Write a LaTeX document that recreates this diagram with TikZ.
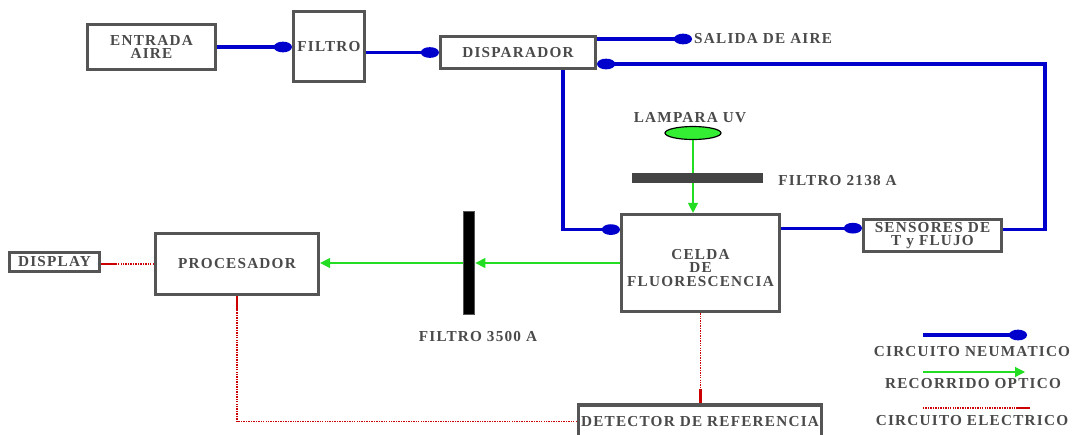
\documentclass[tikz,border=0pt]{standalone}
\usepackage{fontspec}
\setmainfont{Liberation Serif}[LetterSpace=8]
\usetikzlibrary{arrows.meta,shapes.geometric}
\definecolor{boxgray}{HTML}{555555}
\definecolor{bargray}{HTML}{444444}
\definecolor{txtgray}{HTML}{4A4A4A}
\definecolor{pneublue}{HTML}{0000CC}
\definecolor{optgreen}{HTML}{22DD22}
\definecolor{lampgreen}{HTML}{33EE33}
\definecolor{elecred}{HTML}{CC0000}
\begin{document}
\begin{tikzpicture}[x=0.03cm,y=-0.03cm,thick,font=\fontsize{13}{11.5}\selectfont\bfseries,text=txtgray]
  \tikzstyle{boxA}=[rectangle, draw=boxgray, line width=3pt, fill=white, align=center, inner sep=0pt]
  \tikzstyle{lbl}=[align=center, inner sep=0pt]
  \tikzstyle{pneu}=[pneublue, line width=2.6pt, -{Ellipse[length=0.54cm,width=0.32cm]}]
  \tikzstyle{optic}=[optgreen, line width=1pt, -{Triangle[length=0.3cm,width=0.3cm]}]
  \tikzstyle{elec}=[elecred, dash pattern=on 1.2pt off 0.9pt, line width=1pt, -{Rectangle[length=0.42cm,width=0.08cm]}]
  \useasboundingbox (0,0) rectangle (1077,434);
  \clip (0,0) rectangle (1077,434);
  \node[boxA, minimum width=3.83cm, minimum height=1.34cm] (entrada) at (151.5,47) {ENTRADA\\AIRE};
  \node[boxA, minimum width=2.12cm, minimum height=2.09cm] (filtro) at (329,46.5) {FILTRO};
  \node[boxA, minimum width=4.64cm, minimum height=0.95cm] (disparador) at (518,52.5) {DISPARADOR};
  \node[boxA, minimum width=4.73cm, minimum height=2.9cm] (celda) at (700.5,263) {};
  \node[lbl] (celdatxt) at (700.5,268) {CELDA\\DE\\FLUORESCENCIA};
  \node[boxA, minimum width=4.13cm, minimum height=0.95cm] (sensores) at (932.5,235.5) {SENSORES DE\\T y FLUJO};
  \node[boxA, minimum width=4.88cm, minimum height=1.82cm] (procesador) at (237,264) {PROCESADOR};
  \node[boxA, minimum width=2.69cm, minimum height=0.56cm] (display) at (54.5,262) {DISPLAY};
  \node[boxA, minimum width=7.28cm, minimum height=1.02cm] (detector) at (700,421.75) {DETECTOR DE REFERENCIA};
  \node[lbl, anchor=west, inner sep=1.5pt] (salida) at (692,39) {SALIDA DE AIRE};
  \node[ellipse, draw=black, fill=lampgreen, line width=1pt, minimum width=1.68cm, minimum height=0.39cm, inner sep=0pt] (lamp) at (693,133) {};
  \node[lbl] (lamptxt) at (690,118) {LAMPARA UV};
  \draw[pneu] (entrada.east) -- (entrada.east -| filtro.west);
  \draw[pneu] (filtro.east |- disparador.west) -- (disparador.west);
  \draw[pneu] (salida.west -| disparador.east) -- (salida.west);
  \coordinate (ret) at (1045,64);
  \draw[pneu] ([yshift=0.17cm]sensores.east) -| (ret) -- (ret -| disparador.east);
  \draw[pneu] ([xshift=1.35cm]disparador.south) |- ([yshift=-0.5cm]celda.north west);
  \coordinate (sin) at ([yshift=0.22cm]sensores.west);
  \draw[pneu] (sin -| celda.east) -- (sin);
  \draw[optic] (lamp.south) -- (lamp.south |- celda.north);
  \node[rectangle, fill=bargray, minimum width=3.93cm, minimum height=0.3cm, inner sep=0pt] (f2138) at (697.5,178) {};
  \node[lbl, anchor=west] (f2138txt) at (778,181) {FILTRO 2138 A};
  \node[rectangle, draw=boxgray, fill=black, line width=1.5pt, minimum width=0.33cm, minimum height=3.09cm, inner sep=0pt] (f3500) at (469,263) {};
  \node[lbl] (f3500txt) at (478,336) {FILTRO 3500 A};
  \draw[optic] (celda.west) -- (f3500.east);
  \draw[optic] (f3500.west) -- (f3500.west -| procesador.east);
  \draw[elec] (procesador.west) -- (procesador.west -| display.east);
  \draw[elec] (detector.west) -| (procesador.south);
  \draw[elec] (celda.south) -- (celda.south |- detector.north);
  \coordinate (lg1) at (923,335);
  \draw[pneu] (lg1) -- ++(104,0);
  \node[lbl] (lg1txt) at (972,352) {CIRCUITO NEUMATICO};
  \coordinate (lg2) at (923,372);
  \draw[optic] (lg2) -- ++(102,0);
  \node[lbl] (lg2txt) at (973,384) {RECORRIDO OPTICO};
  \coordinate (lg3) at (923,408);
  \draw[elec] (lg3) -- ++(107,0);
  \node[lbl] (lg3txt) at (972,421) {CIRCUITO ELECTRICO};
\end{tikzpicture}
\end{document}
